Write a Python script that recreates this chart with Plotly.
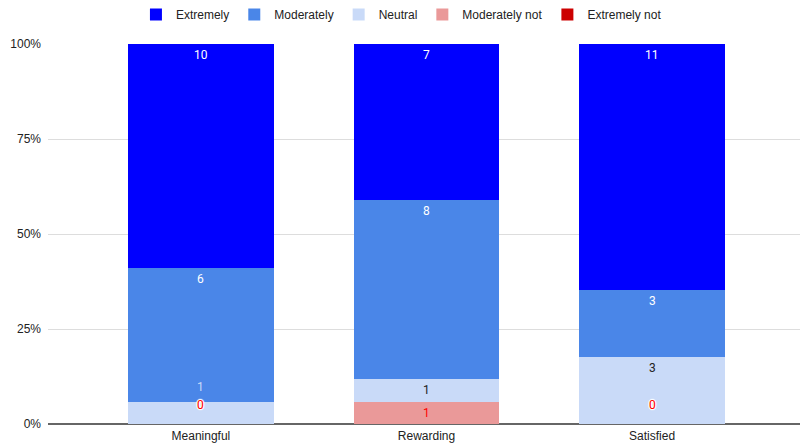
import plotly.graph_objects as go

# Survey responses per statement
categories = ["Meaningful", "Rewarding", "Satisfied"]
series_names = ["Extremely", "Moderately", "Neutral", "Moderately not", "Extremely not"]
extremely = [10, 7, 11]
moderately = [6, 8, 3]
neutral = [1, 1, 3]
moderately_not = [0, 1, 0]
extremely_not = [0, 0, 0]
tick_values = [0, 25, 50, 75, 100]
tick_labels = ["0%", "25%", "50%", "75%", "100%"]

values = {
    "Extremely": extremely,
    "Moderately": moderately,
    "Neutral": neutral,
    "Moderately not": moderately_not,
    "Extremely not": extremely_not,
}

# Styling
bar_colors = {
    "Extremely": "#0000ff",
    "Moderately": "#4a86e8",
    "Neutral": "#c9daf8",
    "Moderately not": "#ea9999",
    "Extremely not": "#cc0000",
}
label_colors = {
    "Extremely": "#ffffff",
    "Moderately": "#ffffff",
    "Neutral": "#222222",
    "Moderately not": "#ff0000",
    "Extremely not": "#ff0000",
}
AXIS_FONT = "Liberation Sans, Arial, sans-serif"
LABEL_FONT = "Roboto, Arial, sans-serif"
DEFAULT_SHIFT = -11      # label centre sits just under the top of its segment
ZERO_SHIFT = 19          # zero-height segments get their label lifted into the bar
label_shift_override = {("Meaningful", "Neutral"): 15}
label_color_override = {("Meaningful", "Neutral"): "#c9daf8"}
hidden_labels = {("Rewarding", "Extremely not")}

# Stack from the bottom up
stack_order = list(reversed(series_names))
totals = [sum(values[s][j] for s in series_names) for j in range(len(categories))]

fig = go.Figure()
for name in stack_order:
    fig.add_trace(go.Bar(
        name=name,
        x=categories,
        y=values[name],
        marker=dict(color=bar_colors[name], line=dict(width=0)),
        width=0.647,
        hoverinfo="x+y+name",
    ))

annotations = []
for j, cat in enumerate(categories):
    cum = 0
    for name in stack_order:
        v = values[name][j]
        top = (cum + v) / totals[j] * 100
        cum += v
        key = (cat, name)
        if key in hidden_labels:
            continue
        if key in label_shift_override:
            shift = label_shift_override[key]
        elif v == 0:
            shift = ZERO_SHIFT
        else:
            shift = DEFAULT_SHIFT
        color = label_color_override.get(key, label_colors[name])
        font = dict(family=LABEL_FONT, size=12, color=color)
        if v == 0:
            font["shadow"] = ("1px 0 1px #fff, -1px 0 1px #fff, 0 1px 1px #fff, "
                              "0 -1px 1px #fff")
        annotations.append(dict(
            x=cat, y=top, xref="x", yref="y",
            text=str(v), showarrow=False,
            yanchor="middle", xanchor="center",
            yshift=shift, font=font,
        ))

fig.update_layout(
    width=800,
    height=445,
    barmode="stack",
    barnorm="percent",
    paper_bgcolor="white",
    plot_bgcolor="white",
    margin=dict(l=48, r=0, t=44, b=21),
    font=dict(family=AXIS_FONT, size=12, color="#222222"),
    legend=dict(
        orientation="h",
        traceorder="reversed",
        x=0.47, xanchor="center",
        y=1.079, yanchor="middle",
        font=dict(family=AXIS_FONT, size=12, color="#222222"),
        itemclick=False,
        bgcolor="rgba(0,0,0,0)",
    ),
    annotations=annotations,
    xaxis=dict(
        type="category",
        range=[-0.678, 2.656],
        showgrid=False,
        ticks="",
        ticklabelstandoff=3,
        tickfont=dict(family=AXIS_FONT, size=12, color="#222222"),
        showline=False,
        zeroline=False,
        fixedrange=True,
    ),
    yaxis=dict(
        range=[0, 100],
        tickvals=tick_values,
        ticktext=tick_labels,
        showgrid=True,
        gridcolor="#dddddd",
        gridwidth=1,
        zeroline=True,
        zerolinecolor="#666666",
        zerolinewidth=2,
        ticks="",
        ticklabelstandoff=6,
        tickfont=dict(family=AXIS_FONT, size=12, color="#222222"),
        fixedrange=True,
    ),
)

fig.write_html("out.html")
